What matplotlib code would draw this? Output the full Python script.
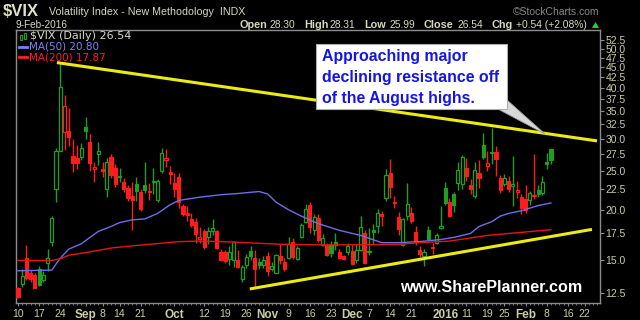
import numpy as np
import matplotlib.pyplot as plt
from matplotlib.patches import Rectangle, Polygon
from matplotlib.lines import Line2D
from matplotlib.ticker import NullLocator

plt.rcParams['font.family'] = ['Liberation Sans', 'DejaVu Sans']

# daily candles, Aug 10 2015 .. Feb 9 2016 (trading-day index)
opens = [12.8, 13.1, 15.2, 14.0, 13.8, 14.3, 13.4, 14.8, 16.7, 22.5,
         28.0, 31.2, 31.3, 27.1, 26.9, 27.0, 32.1, 29.4, 25.2, 27.5,
         25.2, 22.5, 27.0, 25.4, 24.1, 23.5, 22.6, 21.6, 23.2, 22.1,
         23.0, 22.3, 23.6, 21.2, 25.0, 26.5, 24.8, 23.3, 24.1, 20.4,
         19.7, 19.0, 18.7, 16.95, 17.7, 17.1, 17.7, 17.7, 15.75, 15.7,
         15.1, 15.0, 15.0, 13.5, 14.65, 15.8, 15.2, 14.9, 14.6, 15.4,
         14.3, 14.0, 15.4, 14.9, 15.2, 16.7, 15.1, 17.15, 18.7, 20.6,
         17.8, 19.1, 16.4, 16.4, 16.4, 16.7, 15.7, 15.35, 15.7, 15.8,
         15.0, 15.9, 17.5, 15.7, 17.8, 18.2, 19.5, 21.4, 24.6, 20.8,
         19.2, 16.4, 19.3, 19.7, 17.6, 15.9, 15.4, 17.8, 16.2, 16.6,
         18.0, 22.6, 20.9, 21.9, 23.3, 23.2, 25.4, 23.0, 21.6, 24.6,
         29.0, 25.7, 27.8, 27.8, 24.0, 23.2, 23.6, 22.85, 22.2, 21.5,
         21.3, 21.2, 21.8, 22.4, 22.0, 26.2, 28.30]
highs = [12.9, 14.3, 16.4, 14.2, 14.0, 14.5, 14.1, 16.0, 19.3, 28.5,
         46.0, 38.5, 35.6, 30.0, 28.9, 29.3, 33.9, 30.7, 26.3, 29.5,
         26.3, 26.9, 27.5, 26.0, 25.4, 24.0, 23.0, 23.4, 24.1, 22.5,
         26.3, 23.3, 25.4, 23.8, 28.4, 28.2, 25.7, 24.7, 24.7, 20.7,
         20.4, 19.7, 19.1, 18.1, 17.9, 18.1, 19.0, 17.8, 16.0, 15.9,
         16.3, 16.75, 15.9, 14.6, 15.6, 16.3, 15.9, 15.2, 15.4, 15.75,
         14.9, 15.6, 16.5, 15.2, 17.1, 17.0, 16.3, 18.6, 20.7, 20.9,
         19.5, 19.5, 17.4, 16.6, 16.8, 17.5, 16.0, 15.5, 16.6, 16.4,
         16.5, 19.3, 17.8, 18.0, 18.5, 20.1, 19.9, 25.2, 26.7, 21.7,
         19.8, 19.1, 23.3, 20.3, 18.3, 16.3, 16.0, 18.2, 16.6, 17.5,
         20.4, 23.4, 21.4, 22.1, 26.3, 27.3, 26.8, 23.8, 26.3, 26.5,
         30.9, 28.0, 31.9, 28.8, 24.4, 24.5, 24.2, 27.2, 23.6, 21.9,
         23.0, 22.3, 27.5, 23.0, 24.2, 27.6, 28.31]
lows = [12.1, 12.9, 13.4, 13.3, 12.8, 13.0, 13.3, 14.1, 16.3, 20.9,
        28.0, 28.1, 28.8, 24.8, 25.3, 26.5, 30.0, 25.0, 23.5, 25.8,
        24.1, 21.5, 24.0, 22.8, 23.5, 22.2, 21.0, 17.8, 21.0, 19.9,
        22.0, 21.2, 21.9, 20.9, 24.7, 25.5, 23.2, 21.5, 20.2, 19.3,
        18.8, 18.1, 16.6, 16.6, 16.0, 16.5, 17.3, 16.0, 14.95, 14.8,
        14.6, 14.45, 14.35, 13.3, 14.4, 15.0, 12.8, 14.3, 14.4, 13.7,
        14.1, 13.95, 14.7, 14.1, 15.1, 15.1, 15.0, 17.0, 18.6, 17.5,
        17.3, 16.7, 16.3, 15.4, 15.3, 15.9, 15.1, 15.0, 15.5, 14.6,
        14.8, 15.8, 14.7, 15.5, 16.5, 17.5, 18.3, 21.0, 21.4, 20.2,
        17.3, 16.3, 18.9, 18.6, 16.4, 15.3, 14.5, 16.8, 15.6, 16.5,
        17.9, 20.6, 19.2, 19.8, 22.4, 22.5, 23.6, 21.9, 21.4, 22.6,
        26.7, 25.0, 26.0, 24.3, 22.0, 22.9, 22.2, 20.4, 21.4, 19.5,
        19.7, 20.6, 21.3, 21.5, 21.8, 25.3, 25.99]
closes = [12.2, 13.7, 13.6, 13.5, 12.85, 13.05, 13.8, 15.25, 19.1, 28.0,
          40.3, 36.0, 30.3, 26.1, 26.05, 28.4, 31.4, 26.1, 25.5, 27.9,
          24.9, 26.2, 24.4, 23.2, 24.3, 22.5, 21.35, 21.1, 22.3, 20.1,
          22.45, 22.1, 23.45, 23.6, 27.6, 26.8, 24.5, 22.55, 20.9, 19.55,
          19.4, 18.4, 17.4, 17.1, 16.17, 17.7, 18.05, 16.1, 15.05, 14.98,
          15.75, 16.7, 14.45, 14.46, 15.29, 15.43, 14.33, 14.61, 15.07, 14.15,
          14.54, 15.51, 15.05, 14.33, 16.52, 15.29, 16.06, 18.4, 20.1, 18.16,
          19.2, 16.85, 17.0, 15.5, 15.62, 16.4, 15.2, 15.1, 16.3, 14.7,
          15.95, 18.1, 14.8, 15.84, 17.6, 19.6, 19.34, 24.4, 22.73, 20.95,
          17.9, 19.0, 20.7, 18.8, 16.7, 15.6, 15.74, 16.91, 16.08, 17.29,
          18.21, 20.8, 19.34, 20.6, 25.1, 27.0, 24.3, 22.47, 25.1, 23.95,
          27.02, 26.05, 27.59, 26.69, 22.34, 24.0, 22.5, 23.11, 22.42, 20.2,
          19.98, 21.98, 21.65, 21.84, 23.38, 26.0, 26.54]

ma50_idx = [0, 8, 9, 10, 12, 15, 17, 19, 22, 24, 27, 30, 33, 36, 38, 43, 48, 52, 57, 59,
            61, 64, 67, 71, 76, 81, 86, 90, 95, 100, 103, 107, 109, 112, 114, 116, 119, 121, 123, 126]
ma50_val = [14.15, 14.2, 14.7, 15.2, 16.0, 16.5, 17.1, 17.7, 18.2, 18.6, 18.9, 19.0, 19.6, 20.6, 21.1, 21.5, 21.8, 21.95, 22.2, 21.9,
            20.9, 20.0, 19.3, 18.5, 17.8, 17.3, 16.6, 16.6, 16.7, 16.9, 17.1, 17.5, 18.2, 18.7, 19.3, 19.6, 19.9, 20.2, 20.5, 20.8]
ma200_idx = [0, 8, 10, 12, 17, 22, 27, 34, 38, 43, 48, 51, 62, 71, 82, 90, 95, 102, 111, 126]
ma200_val = [15.0, 15.0, 15.15, 15.45, 15.75, 16.1, 16.3, 16.55, 16.7, 16.75, 16.7, 16.65, 16.45, 16.4, 16.4, 16.45, 16.6, 16.75, 17.3, 17.87]

# trendlines drawn on the chart
resist_x = [9.2, 136.9]
resist_y = [46.2, 29.6]
support_x = [54.8, 135.7]
support_y = [12.76, 17.9]

yticks = [12.5, 15.0, 17.5, 20.0, 22.5, 25.0, 27.5, 30.0, 32.5, 35.0,
          37.5, 40.0, 42.5, 45.0, 47.5, 50.0, 52.5]
xtick_idx = [0, 5, 10, 16, 20, 24, 29, 37, 44, 49, 54, 59, 64, 69, 74, 79,
             83, 88, 93, 101, 106, 111, 115, 120, 125, 130, 134]
xtick_lab = ['10', '17', '24', 'Sep', '8', '14', '21', 'Oct', '12', '19', '26', 'Nov', '9',
             '16', '23', 'Dec', '7', '14', '21', '2016', '11', '19', '25', 'Feb', '8', '16', '22']
bold_lab = ['Sep', 'Oct', 'Nov', 'Dec', '2016', 'Feb']

green = '#1ea01e'
red = '#ff1c1c'
tan = '#cdcda5'
grey = '#8c8c8c'

fig = plt.figure(figsize=(6.4, 3.2), dpi=100, facecolor='black')
ax = fig.add_axes([16/640, 1-303/320, 584/640, 273/320])
ax.set_facecolor('black')
ax.set_yscale('log')
ax.set_xlim(-0.47, 137.6)
ax.set_ylim(11.78, 55.6)

w = 0.74
for i in range(len(closes)):
    o, h, l, c = opens[i], highs[i], lows[i], closes[i]
    prev = closes[i-1] if i > 0 else o
    col = green if c >= prev else red
    ax.vlines(i, l, h, color=col, lw=1, zorder=2)
    lo, hi = min(o, c), max(o, c)
    if c < o:
        ax.add_patch(Rectangle((i - w/2, lo), w, hi - lo, facecolor=col, edgecolor=col, lw=0.8, zorder=3))
    else:
        ax.add_patch(Rectangle((i - w/2, lo), w, hi - lo, facecolor='black', edgecolor=col, lw=0.9, zorder=3))

ax.plot(ma50_idx, ma50_val, color='#6e6ee6', lw=1, zorder=4)
ax.plot(ma200_idx, ma200_val, color='#e81414', lw=1, zorder=4)
ax.plot(resist_x, resist_y, color='#ecec10', lw=2.2, zorder=5, solid_capstyle='butt')
ax.plot(support_x, support_y, color='#ecec10', lw=2.2, zorder=5, solid_capstyle='butt')

for s in ax.spines.values():
    s.set_color(grey)
    s.set_linewidth(1)

ax.yaxis.tick_right()
ax.yaxis.set_minor_locator(NullLocator())
ax.set_yticks(yticks)
ax.set_yticklabels([f'{v:.1f}' for v in yticks])
ax.tick_params(axis='y', length=3, color=grey, labelcolor=tan, labelsize=7.5, pad=1)

ax.set_xticks(xtick_idx)
ax.set_xticklabels(xtick_lab)
ax.set_xticks(range(0, 138), minor=True)
ax.tick_params(axis='x', which='major', length=2.5, color=grey, labelcolor=tan, labelsize=7.5, pad=2)
ax.tick_params(axis='x', which='minor', length=1.5, color=grey)
for t in ax.get_xticklabels():
    if t.get_text() in bold_lab:
        t.set_fontweight('bold')
        t.set_fontsize(8.5)


def fx(px):
    return px / 640


def fy(py):
    return 1 - py / 320


# header
fig.text(fx(3), fy(11), r'\$VIX', fontsize=12, weight='bold', color='#e0e0c4', va='center')
fig.text(fx(49), fy(12), 'Volatility Index - New Methodology  INDX', fontsize=7.7, color='#d8d8c0', va='center')
fig.text(fx(599), fy(12), '\u00a9StockCharts.com', fontsize=7.5, color='#8a8a8a', va='center', ha='right')
fig.text(fx(16), fy(25), '9-Feb-2016', fontsize=7.2, color='#d8d8c0', va='center')
pieces = [('Open', True, 239), ('28.30', False, 269), ('High', True, 304), ('28.31', False, 330),
          ('Low', True, 364), ('25.99', False, 389), ('Close', True, 424), ('26.54', False, 457),
          ('Chg', True, 492), ('+0.54 (+2.08%)', False, 516)]
for txt, b, px in pieces:
    fig.text(fx(px), fy(25), txt, fontsize=7.8 if b else 7.4, weight='bold' if b else 'normal',
             color='#d8d8c0', va='center')
fig.patches.append(Polygon([[fx(592), fy(28)], [fx(599), fy(28)], [fx(595.5), fy(22)]],
                           closed=True, transform=fig.transFigure, facecolor='#20d040', edgecolor='none'))

# legend
for dx, yb, yt in [(19.5, 35, 40), (23.5, 33, 39)]:
    fig.add_artist(Rectangle((fx(dx), fy(yt)), 2.5/640, (yt-yb)/320, transform=fig.transFigure,
                             facecolor='none', edgecolor=green, lw=0.8))
fig.text(fx(30), fy(36), r'\$VIX (Daily) 26.54', fontsize=8, family='DejaVu Sans', color='#d8d8c0', va='center')
fig.add_artist(Line2D([fx(19), fx(27)], [fy(46.5), fy(46.5)], color='#7c7cff', lw=2, transform=fig.transFigure))
fig.text(fx(29), fy(46.5), 'MA(50) 20.80', fontsize=7.5, family='DejaVu Sans', color='#8080ff', va='center')
fig.add_artist(Line2D([fx(19), fx(27)], [fy(57), fy(57)], color='#ff2020', lw=2, transform=fig.transFigure))
fig.text(fx(29), fy(57), 'MA(200) 17.87', fontsize=7.5, family='DejaVu Sans', color='#ff2020', va='center')

# callout
fig.patches.append(Polygon([[fx(496), fy(108)], [fx(507), fy(100)], [fx(545), fy(134)]], closed=True,
                           transform=fig.transFigure, facecolor='#d8d8d8', edgecolor='#a0a0a0', lw=0.6))
fig.patches.append(Rectangle((fx(316), fy(109)), 191/640, 65/320, transform=fig.transFigure,
                             facecolor='white', edgecolor='#b0b0b0', lw=0.8))
for k, line in enumerate(['Approaching major', 'declining resistance off', 'of the August highs.']):
    fig.text(fx(322), fy(57 + 20.5*k), line, fontsize=11.4, weight='bold', color='#1414e6', va='center')

fig.text(fx(491), fy(288), 'www.SharePlanner.com', fontsize=11.6, weight='bold', color='white',
         va='center', ha='center')

fig.savefig('out.png', dpi=100, facecolor='black')
